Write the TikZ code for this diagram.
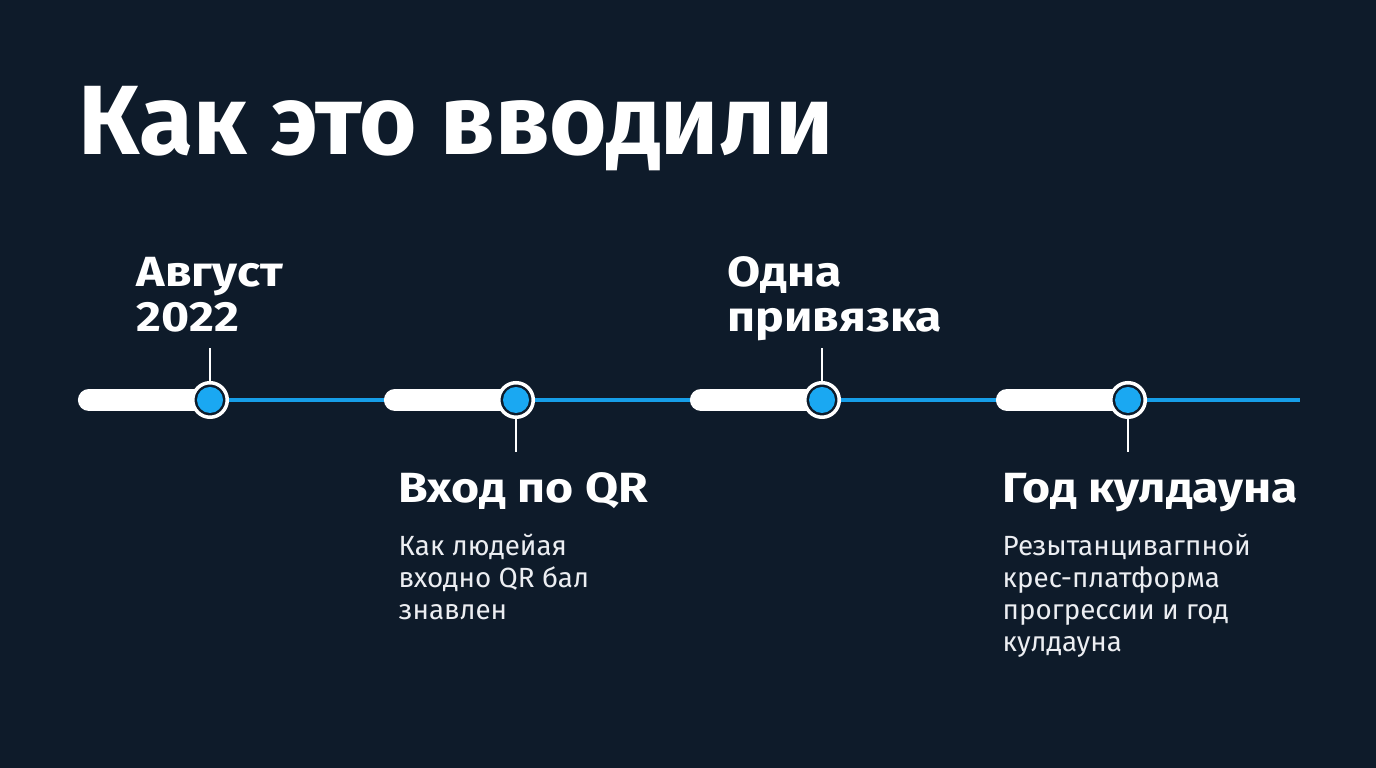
\documentclass[tikz,border=0pt]{standalone}
\usepackage{fontspec}
\setmainfont{Fira Sans}
\newfontfamily\headfont{Fira Sans}[FakeStretch=1.14]
\usetikzlibrary{positioning}
\definecolor{SlideNavy}{RGB}{14,27,42}
\definecolor{RailBlue}{RGB}{22,158,232}
\definecolor{DotBlue}{RGB}{26,168,242}
\definecolor{DescGrey}{RGB}{236,238,242}

\begin{document}
\begin{tikzpicture}[
    x=0.01cm,
    y=-0.01cm,
    ring/.style={circle, draw=white, fill=SlideNavy, line width=1pt,
      minimum size=0.345cm, inner sep=0pt},
    tick/.style={white, line width=0.6pt},
    head/.style={anchor=base west, inner sep=0pt, align=left, text=white,
      font=\headfont\fontsize{12}{12.8}\selectfont\bfseries},
    desc/.style={anchor=base west, inner sep=0pt, align=left, text=DescGrey,
      font=\fontsize{7.9}{9.1}\selectfont}
]
\fill[SlideNavy] (0,0) rectangle (1376,768);
\useasboundingbox (0,0) rectangle (1376,768);

% Title
\node[anchor=base west, inner sep=0pt, text=white,
  font=\fontsize{28}{30}\selectfont\bfseries] (title) at (78,155) {Как это вводили};

% blue rail
\draw[RailBlue, line width=1.1pt] (78,400) -- (1300,400);

% white bars and dots
\foreach \x [count=\i] in {210,516,822,1128}{
  \draw[white, line width=6.3pt, line cap=round] (\x-121,400) -- (\x,400);
  \node[ring] (d\i) at (\x,400) {};
  \fill[DotBlue] (d\i) circle (0.13cm);
}

% ticks
\coordinate (t1) at (210,348);
\coordinate (t2) at (516,452);
\coordinate (t3) at (822,348);
\coordinate (t4) at (1128,452);
\foreach \i in {1,...,4}{
  \draw[tick] (d\i) -- (t\i);
}

% Labels above (anchored on the last line)
\node[head] (h1) at (136,332) {Август\\2022};
\node[head] (h3) at (727,332) {Одна\\привязка};

% Labels below
\node[head] (h2) at (398,503) {Вход по QR};
\node[head] (h4) at (1002,503) {Год кулдауна};

\node[desc] (p2) at (398,620) {Как людейая\\входно QR бал\\знавлен};
\node[desc] (p4) at (1002,652) {Резытанцивагпной\\крес-платформа\\прогрессии и год\\кулдауна};

\end{tikzpicture}
\end{document}
